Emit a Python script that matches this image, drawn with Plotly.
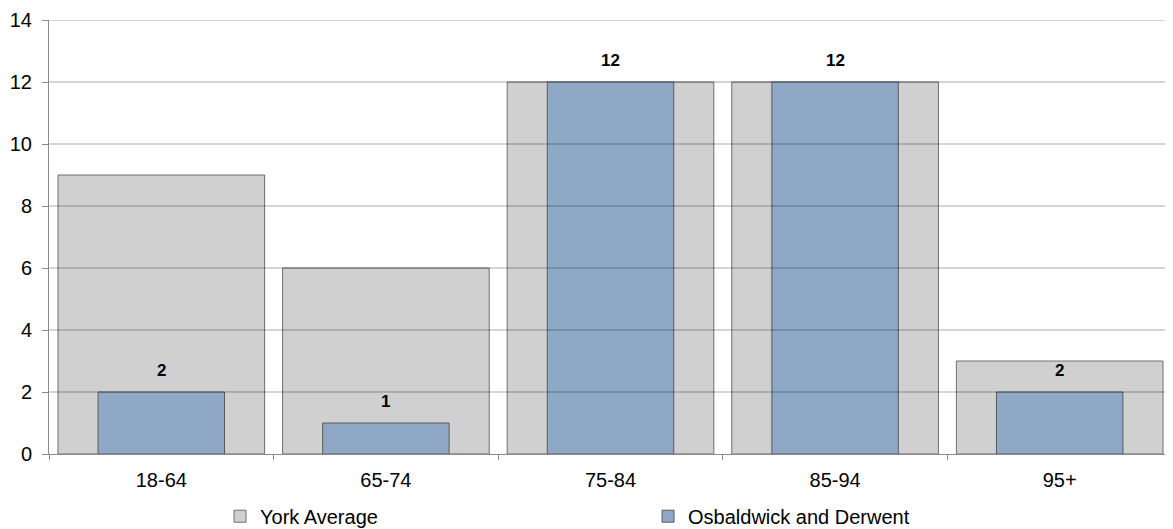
import plotly.graph_objects as go

categories = ["18-64", "65-74", "75-84", "85-94", "95+"]
york_avg = [9, 6, 12, 12, 3]
osbaldwick = [2, 1, 12, 12, 2]
y_ticks = [0, 2, 4, 6, 8, 10, 12, 14]

FONT = "Liberation Sans, Arial, sans-serif"

fig = go.Figure()
fig.add_trace(go.Bar(
    x=categories, y=york_avg, name="York Average",
    width=0.92,
    marker=dict(color="#D0D0D0", line=dict(color="#6E6E6E", width=1)),
    hoverinfo="x+y",
))
fig.add_trace(go.Bar(
    x=categories, y=osbaldwick, name="Osbaldwick and Derwent",
    width=0.563,
    marker=dict(color="#8FA8C6", line=dict(color="#5A5A5A", width=1)),
    hoverinfo="x+y",
))

# data labels for the Osbaldwick series
for c, v in zip(categories, osbaldwick):
    fig.add_annotation(x=c, y=v, text=f"<b>{v}</b>", showarrow=False,
                       xref="x", yref="y", yanchor="bottom", yshift=10,
                       font=dict(family=FONT, size=17, color="#000000"))

for v in y_ticks[1:]:
    fig.add_shape(type="line", xref="paper", yref="y", x0=0, x1=1, y0=v, y1=v,
                  line=dict(color="rgba(0,0,0,0.33)", width=1), layer="above")

fig.update_layout(
    width=1165, height=521,
    barmode="overlay",
    plot_bgcolor="white", paper_bgcolor="white",
    margin=dict(l=41, r=1, t=12, b=75, autoexpand=False),
    font=dict(family=FONT, size=20, color="#000000"),
    showlegend=True,
    legend=dict(orientation="h", xref="paper", x=0.1523, xanchor="left",
                yref="container", y=0.062, yanchor="top",
                entrywidth=383, entrywidthmode="pixels", itemwidth=30,
                font=dict(family=FONT, size=20), traceorder="normal"),
    xaxis=dict(type="category", showgrid=False, showline=True, linecolor="#8C8C8C",
               linewidth=1, ticks="outside", tickson="boundaries", ticklen=5,
               tickcolor="#8C8C8C", tickfont=dict(family=FONT, size=20),
               ticklabelstandoff=8, automargin=False),
    yaxis=dict(range=[0, 14], tickvals=y_ticks, showgrid=False, zeroline=False,
               showline=True, linecolor="#8C8C8C", linewidth=1, ticks="outside",
               ticklen=6, tickcolor="#8C8C8C", tickfont=dict(family=FONT, size=20),
               ticklabelstandoff=6, automargin=False),
)

fig.write_html("out.html")
